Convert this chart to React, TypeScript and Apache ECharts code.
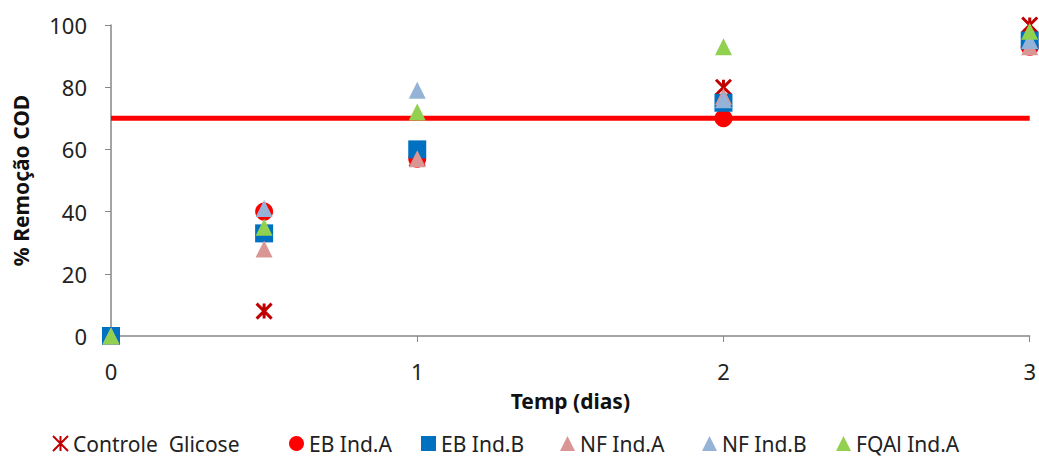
import React, { useEffect, useRef } from "react";
import * as echarts from "echarts";

const days = [0, 0.5, 1, 2, 3];
const controleGlicose = [0, 8, 57, 80, 100];
const ebIndA = [0, 40, 57, 70, 93];
const ebIndB = [0, 33, 60, 75, 95];
const nfIndA = [0, 28, 57, 77, 93];
const nfIndB = [0, 41, 79, 76, 95];
const fqalIndA = [0, 35, 72, 93, 98];
const limitLine = [70, 70];
const limitX = [0, 3];

const seriesNames = ["Controle  Glicose", "EB Ind.A", "EB Ind.B", "NF Ind.A", "NF Ind.B", "FQAl Ind.A"];
const legendLeft = [52, 289, 421, 560, 702, 836];

const pts = (vals: number[]) => days.map((d, i) => [d, vals[i]]);

export default function App() {
  const ref = useRef<HTMLDivElement>(null);
  useEffect(() => {
    const chart = echarts.init(ref.current!, null, { renderer: "svg" });
    const font = "'Noto Sans', sans-serif";
    chart.setOption({
      animation: false,
      textStyle: { fontFamily: font },
      grid: { left: 111, right: 9, top: 25, bottom: 121 },
      legend: seriesNames.map((n, i) => ({
        data: [n],
        left: legendLeft[i],
        top: 433,
        padding: 0,
        itemGap: 0,
        itemWidth: 15,
        itemHeight: 15,
        textStyle: { fontSize: 21, color: "#222", fontFamily: font },
      })),
      xAxis: {
        type: "value",
        min: 0,
        max: 3,
        interval: 1,
        name: "Temp (dias)",
        nameLocation: "middle",
        nameGap: 54,
        nameTextStyle: { fontSize: 21, fontWeight: "bold", color: "#111", fontFamily: font },
        axisLine: { show: true, onZero: false, lineStyle: { color: "#868686", width: 1.5 } },
        axisTick: { show: true, inside: false, length: 6, lineStyle: { color: "#868686" } },
        axisLabel: { fontSize: 22, color: "#222", margin: 24 },
        splitLine: { show: false },
      },
      yAxis: {
        type: "value",
        min: 0,
        max: 100,
        interval: 20,
        name: "% Remoção COD",
        nameLocation: "middle",
        nameGap: 80,
        nameTextStyle: { fontSize: 21, fontWeight: "bold", color: "#111", fontFamily: font },
        axisLine: { show: true, lineStyle: { color: "#868686", width: 1.5 } },
        axisTick: { show: true, inside: false, length: 6, lineStyle: { color: "#868686" } },
        axisLabel: { fontSize: 22, color: "#222", margin: 24 },
        splitLine: { show: false },
      },
      series: [
        {
          name: "limit",
          type: "line",
          data: limitX.map((x, i) => [x, limitLine[i]]),
          showSymbol: false,
          symbol: "none",
          lineStyle: { color: "#FF0000", width: 5 },
          z: 1,
        },
        {
          name: seriesNames[0],
          type: "scatter",
          data: pts(controleGlicose),
          symbol: "path://M0,0 L10,10 M10,0 L0,10 M5,0 L5,10",
          symbolSize: 15,
          itemStyle: { color: "rgba(0,0,0,0)", borderColor: "#C00000", borderWidth: 3, opacity: 1 },
          z: 2,
        },
        {
          name: seriesNames[1],
          type: "scatter",
          data: pts(ebIndA),
          symbol: "circle",
          symbolSize: 18,
          itemStyle: { color: "#FF0000", opacity: 1 },
          z: 3,
        },
        {
          name: seriesNames[2],
          type: "scatter",
          data: pts(ebIndB),
          symbol: "rect",
          symbolSize: 18,
          itemStyle: { color: "#0070C0", opacity: 1 },
          z: 4,
        },
        {
          name: seriesNames[3],
          type: "scatter",
          data: pts(nfIndA),
          symbol: "triangle",
          symbolSize: 17,
          itemStyle: { color: "#D99694", opacity: 1 },
          z: 5,
        },
        {
          name: seriesNames[4],
          type: "scatter",
          data: pts(nfIndB),
          symbol: "triangle",
          symbolSize: 17,
          itemStyle: { color: "#95B3D7", opacity: 1 },
          z: 6,
        },
        {
          name: seriesNames[5],
          type: "scatter",
          data: pts(fqalIndA),
          symbol: "triangle",
          symbolSize: 17,
          itemStyle: { color: "#92D050", opacity: 1 },
          z: 7,
        },
      ],
    });
    return () => chart.dispose();
  }, []);
  return <div ref={ref} style={{ width: 1039, height: 457, position: "absolute", left: 0, top: 0 }} />;
}
